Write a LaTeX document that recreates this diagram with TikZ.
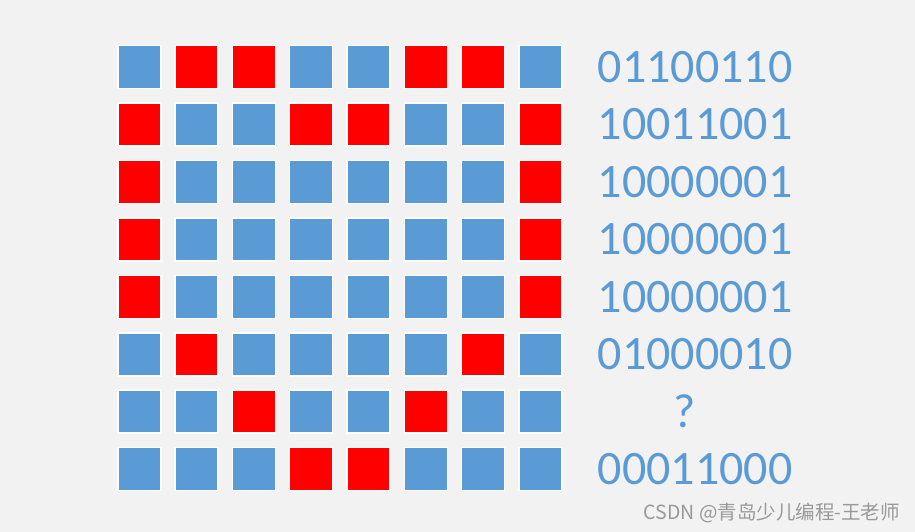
\documentclass[tikz,border=0pt]{standalone}
\usepackage{fontspec}
\setmainfont{Carlito}
\newfontfamily\cjkfont{Noto Sans CJK SC}
\definecolor{bg}{HTML}{F2F2F2}
\definecolor{cblue}{HTML}{5B9BD5}
\definecolor{cred}{HTML}{FF0000}
\begin{document}
\begin{tikzpicture}[x=1pt,y=-1pt,
  cell/.style={minimum size=43pt, inner sep=0pt, draw=white, line width=1.5pt, anchor=north west},
  b0/.style={fill=cblue},
  b1/.style={fill=cred},
  bits/.style={text=cblue, font=\fontsize{48}{48}\selectfont, inner sep=0pt, anchor=center},
  wmark/.style={text=black!40, font=\cjkfont\fontsize{19.5}{20}\selectfont, inner sep=0pt, anchor=east}]
\fill[bg] (0,0) rectangle (915,532);
\useasboundingbox (0,0) rectangle (915,532);
\foreach \bitrow [count=\r] in {{0,1,1,0,0,1,1,0},{1,0,0,1,1,0,0,1},{1,0,0,0,0,0,0,1},{1,0,0,0,0,0,0,1},{1,0,0,0,0,0,0,1},{0,1,0,0,0,0,1,0},{0,0,1,0,0,1,0,0},{0,0,0,1,1,0,0,0}}{
  \foreach \b [count=\c] in \bitrow {
    \node[cell, b\b] (sq-\r-\c) at ({117+(\c-1)*57.3},{45+(\r-1)*57.4}) {};
  }
}
\foreach \txt/\xx [count=\r] in {01100110/695,10011001/695,10000001/695,10000001/695,10000001/695,01000010/695,?/685,00011000/695}{
  \node[bits] (t\r) at (\xx,{67+(\r-1)*57.4}) {\txt};
}
\node[wmark] (wm) at (900,513) {CSDN @青岛少儿编程-王老师};
\end{tikzpicture}
\end{document}
